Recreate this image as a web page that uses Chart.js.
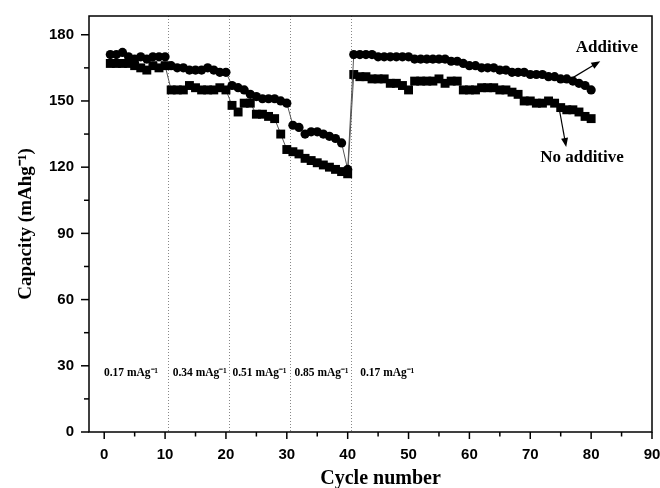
<!DOCTYPE html>
<html>
<head>
<meta charset="utf-8">
<script src="https://cdn.jsdelivr.net/npm/chart.js@4.4.0/dist/chart.umd.min.js"></script>
<style>
  html, body { margin: 0; padding: 0; background: #fff; }
  #wrap { width: 660px; height: 488px; }
</style>
</head>
<body>
<div id="wrap"><canvas id="chart"></canvas></div>
<script>
const cycles = [1, 2, 3, 4, 5, 6, 7, 8, 9, 10,
  11, 12, 13, 14, 15, 16, 17, 18, 19, 20,
  21, 22, 23, 24, 25, 26, 27, 28, 29, 30,
  31, 32, 33, 34, 35, 36, 37, 38, 39, 40,
  41, 42, 43, 44, 45, 46, 47, 48, 49, 50,
  51, 52, 53, 54, 55, 56, 57, 58, 59, 60,
  61, 62, 63, 64, 65, 66, 67, 68, 69, 70,
  71, 72, 73, 74, 75, 76, 77, 78, 79, 80];

const additive = [171, 171, 172, 170, 169, 170, 169, 170, 170, 170,
  166, 165, 165, 164, 164, 164, 165, 164, 163, 163,
  157, 156, 155, 153, 152, 151, 151, 151, 150, 149,
  139, 138, 135, 136, 136, 135, 134, 133, 131, 119,
  171, 171, 171, 171, 170, 170, 170, 170, 170, 170,
  169, 169, 169, 169, 169, 169, 168, 168, 167, 166,
  166, 165, 165, 165, 164, 164, 163, 163, 163, 162,
  162, 162, 161, 161, 160, 160, 159, 158, 157, 155];

const noAdditive = [167, 167, 167, 167, 166, 165, 164, 166, 165, 166,
  155, 155, 155, 157, 156, 155, 155, 155, 156, 155,
  148, 145, 149, 149, 144, 144, 143, 142, 135, 128,
  127, 126, 124, 123, 122, 121, 120, 119, 118, 117,
  162, 161, 161, 160, 160, 160, 158, 158, 157, 155,
  159, 159, 159, 159, 160, 158, 159, 159, 155, 155,
  155, 156, 156, 156, 155, 155, 154, 153, 150, 150,
  149, 149, 150, 149, 147, 146, 146, 145, 143, 142];

// current density steps
const dividers = [10.4, 20.5, 30.6, 40.6];
const rateLabels = ['0.17 mAg\u207B\u00B9', '0.34 mAg\u207B\u00B9', '0.51 mAg\u207B\u00B9', '0.85 mAg\u207B\u00B9', '0.17 mAg\u207B\u00B9'];
const rateLabelX = [4.4, 15.7, 25.5, 35.7, 46.5];
const rateLabelY = 26.5;

const serif = '"Liberation Serif", "Times New Roman", serif';
const sans = '"Liberation Sans", Arial, sans-serif';

function arrow(ctx, x1, y1, x2, y2) {
  const a = Math.atan2(y2 - y1, x2 - x1);
  ctx.beginPath();
  ctx.moveTo(x1, y1);
  ctx.lineTo(x2 - 6 * Math.cos(a), y2 - 6 * Math.sin(a));
  ctx.stroke();
  ctx.beginPath();
  ctx.moveTo(x2, y2);
  ctx.lineTo(x2 - 9 * Math.cos(a) + 3.5 * Math.sin(a), y2 - 9 * Math.sin(a) - 3.5 * Math.cos(a));
  ctx.lineTo(x2 - 9 * Math.cos(a) - 3.5 * Math.sin(a), y2 - 9 * Math.sin(a) + 3.5 * Math.cos(a));
  ctx.closePath();
  ctx.fill();
}

const overlay = {
  id: 'overlay',
  beforeDatasetsDraw(chart) {
    const {ctx, chartArea: ca, scales: {x}} = chart;
    ctx.save();
    ctx.strokeStyle = '#888';
    ctx.lineWidth = 1;
    ctx.setLineDash([1, 2]);
    dividers.forEach(d => {
      const px = Math.round(x.getPixelForValue(d)) + 0.5;
      ctx.beginPath();
      ctx.moveTo(px, ca.top);
      ctx.lineTo(px, ca.bottom);
      ctx.stroke();
    });
    ctx.restore();
  },
  afterDraw(chart) {
    const {ctx, chartArea: ca, scales: {x, y}} = chart;
    ctx.save();
    // frame
    ctx.strokeStyle = '#000';
    ctx.lineWidth = 1.5;
    ctx.strokeRect(ca.left, ca.top, ca.right - ca.left, ca.bottom - ca.top);
    // tick marks, minor ones shorter
    x.ticks.forEach(t => {
      const px = x.getPixelForValue(t.value);
      const len = t.value % 10 === 0 ? 7 : 4.5;
      ctx.beginPath();
      ctx.moveTo(px, ca.bottom);
      ctx.lineTo(px, ca.bottom + len);
      ctx.stroke();
    });
    y.ticks.forEach(t => {
      const py = y.getPixelForValue(t.value);
      const len = t.value % 30 === 0 ? 8 : 5;
      ctx.beginPath();
      ctx.moveTo(ca.left, py);
      ctx.lineTo(ca.left - len, py);
      ctx.stroke();
    });
    ctx.fillStyle = '#000';
    ctx.textAlign = 'center';
    ctx.textBaseline = 'middle';
    // x title, sits a bit right of centre in the original
    ctx.font = 'bold 20px ' + serif;
    ctx.fillText('Cycle number', x.getPixelForValue(45.4), 479);
    // rate labels
    ctx.font = 'bold 11.5px ' + serif;
    rateLabels.forEach((s, i) => {
      ctx.fillText(s, x.getPixelForValue(rateLabelX[i]), y.getPixelForValue(rateLabelY));
    });
    // series labels with arrows
    ctx.font = 'bold 17px ' + serif;
    ctx.fillText('Additive', x.getPixelForValue(82.6), y.getPixelForValue(174.4));
    ctx.fillText('No additive', x.getPixelForValue(78.5), y.getPixelForValue(124.5));
    ctx.lineWidth = 1.2;
    arrow(ctx, x.getPixelForValue(76.6), y.getPixelForValue(159.9), x.getPixelForValue(81.5), y.getPixelForValue(168));
    arrow(ctx, x.getPixelForValue(74.8), y.getPixelForValue(145.8), x.getPixelForValue(75.9), y.getPixelForValue(129.1));
    ctx.restore();
  }
};

new Chart(document.getElementById('chart'), {
  type: 'line',
  data: {
    datasets: [{
      label: 'Additive',
      data: cycles.map((c, i) => ({x: c, y: additive[i]})),
      borderColor: '#555',
      borderWidth: 1,
      pointStyle: 'circle',
      pointRadius: 4.6,
      pointBackgroundColor: '#000',
      pointBorderColor: '#000',
      pointBorderWidth: 0,
      tension: 0
    }, {
      label: 'No additive',
      data: cycles.map((c, i) => ({x: c, y: noAdditive[i]})),
      borderColor: '#555',
      borderWidth: 1,
      pointStyle: 'rect',
      pointRadius: 6.3,
      pointBackgroundColor: '#000',
      pointBorderColor: '#000',
      pointBorderWidth: 0,
      tension: 0
    }]
  },
  options: {
    responsive: true,
    maintainAspectRatio: false,
    animation: false,
    layout: { padding: { top: 16, right: 8, left: 0, bottom: 0 } },
    plugins: { legend: { display: false }, tooltip: { enabled: false } },
    scales: {
      x: {
        type: 'linear',
        min: -2.5,
        max: 90,
        afterFit: s => { s.height = 56; s.paddingLeft = 0; s.paddingRight = 0; },
        grid: { drawOnChartArea: false, drawTicks: true, tickLength: 7, color: 'rgba(0,0,0,0)' },
        border: { display: false },
        ticks: {
          stepSize: 5,
          includeBounds: false,
          autoSkip: false,
          maxRotation: 0,
          padding: 7,
          color: '#000',
          font: { family: sans, size: 15, weight: 'bold' },
          callback: v => (v % 10 === 0 ? v : '')
        },
        title: { display: false }
      },
      y: {
        min: 0,
        max: 188.5,
        afterFit: s => { s.width = 89; s.paddingTop = 0; s.paddingBottom = 0; },
        grid: { drawOnChartArea: false, drawTicks: true, tickLength: 8, color: 'rgba(0,0,0,0)' },
        border: { display: false },
        ticks: {
          stepSize: 15,
          includeBounds: false,
          autoSkip: false,
          padding: 7,
          color: '#000',
          font: { family: sans, size: 15, weight: 'bold' },
          callback: v => (v % 30 === 0 ? v : '')
        },
        title: {
          display: true,
          text: 'Capacity (mAhg\u207B\u00B9)',
          color: '#000',
          font: { family: serif, size: 19, weight: 'bold' },
          padding: { top: 15, bottom: 0 }
        }
      }
    }
  },
  plugins: [overlay]
});
</script>
</body>
</html>
